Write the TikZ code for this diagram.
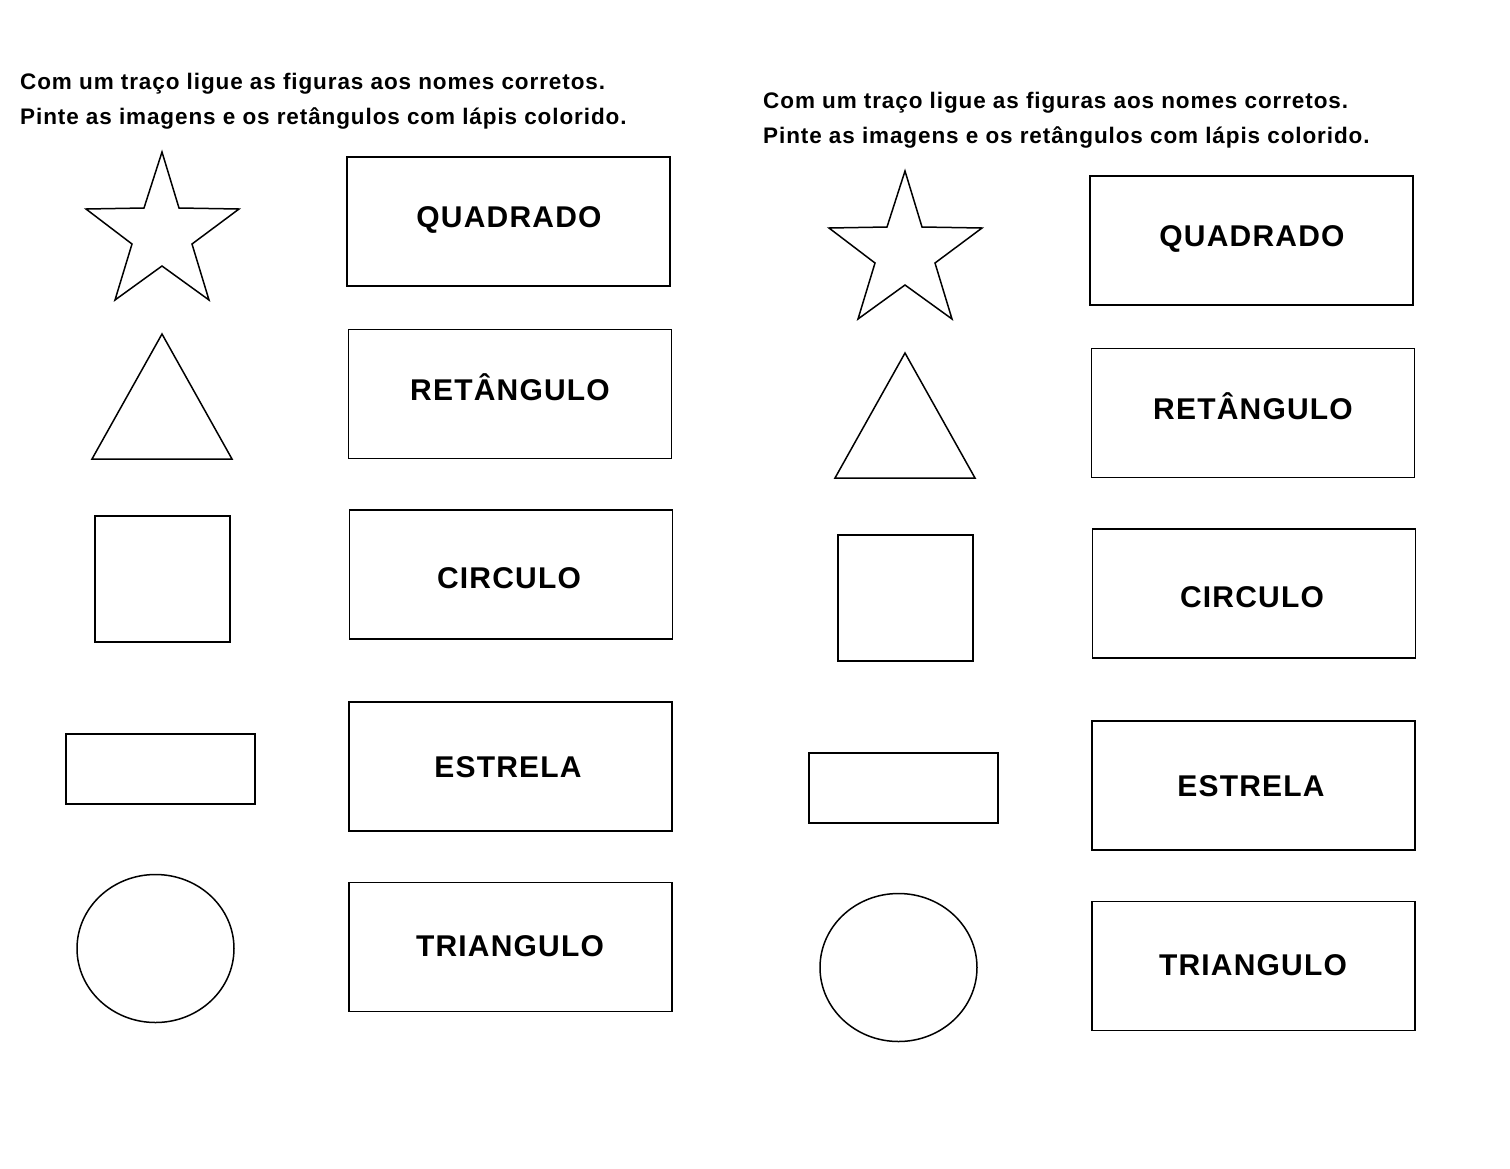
\documentclass[tikz,border=0pt]{standalone}
\usepackage{fontspec}
\setmainfont{Liberation Sans}
\newfontfamily\instrfont[LetterSpace=4]{Liberation Sans}
\newfontfamily\lblfont[LetterSpace=4]{Liberation Sans}
\tikzset{
  shp/.style={draw, line width=1.5pt, line join=miter},
  namebox/.style={draw, line width=1.3pt, minimum width=323pt, minimum height=129pt, inner sep=0pt},
  lbl/.style={font=\lblfont\bfseries\fontsize{30}{34}\selectfont, anchor=base, inner sep=0pt},
  instr/.style={font=\instrfont\bfseries\fontsize{22.5}{26}\selectfont, anchor=base west, inner sep=0pt}
}
\newcommand\drawsheet[3]{%
\begin{scope}[shift={(#2,#3)}]
  \node[instr] (#1i1) at (20,89) {Com um traço ligue as figuras aos nomes corretos.};
  \node[instr] (#1i2) at (20,124) {Pinte as imagens e os retângulos com lápis colorido.};
  \draw[shp] (162,152) -- (179,208) -- (239,209) -- (192,244) -- (209,300) -- (162,266)
     -- (115,300) -- (132,244) -- (86,209) -- (144,208) -- cycle;
  \draw[shp] (162,334) -- (232,459) -- (92,459) -- cycle;
  \draw[shp] (95,516) rectangle (230,642);
  \draw[shp] (66,734) rectangle (255,804);
  \draw[shp] (155.5,948.5) ellipse [x radius=78.5, y radius=74];
  \node[namebox] (#1b1) at (508.5,221.5) {};
  \node[namebox] (#1b2) at (510,394) {};
  \node[namebox] (#1b3) at (511,574.5) {};
  \node[namebox] (#1b4) at (510.5,766.5) {};
  \node[namebox] (#1b5) at (510.5,947) {};
  \node[lbl] (#1t1) at (509,227) {QUADRADO};
  \node[lbl] (#1t2) at (510,400) {RETÂNGULO};
  \node[lbl] (#1t3) at (509,588) {CIRCULO};
  \node[lbl] (#1t4) at (508,777) {ESTRELA};
  \node[lbl] (#1t5) at (510,956) {TRIANGULO};
\end{scope}}
\begin{document}
\begin{tikzpicture}[x=1pt,y=-1pt]
  \useasboundingbox[fill=white] (0,0) rectangle (1510,1168);
  \drawsheet{L}{0}{0}
  \drawsheet{R}{743}{19}
\end{tikzpicture}
\end{document}
